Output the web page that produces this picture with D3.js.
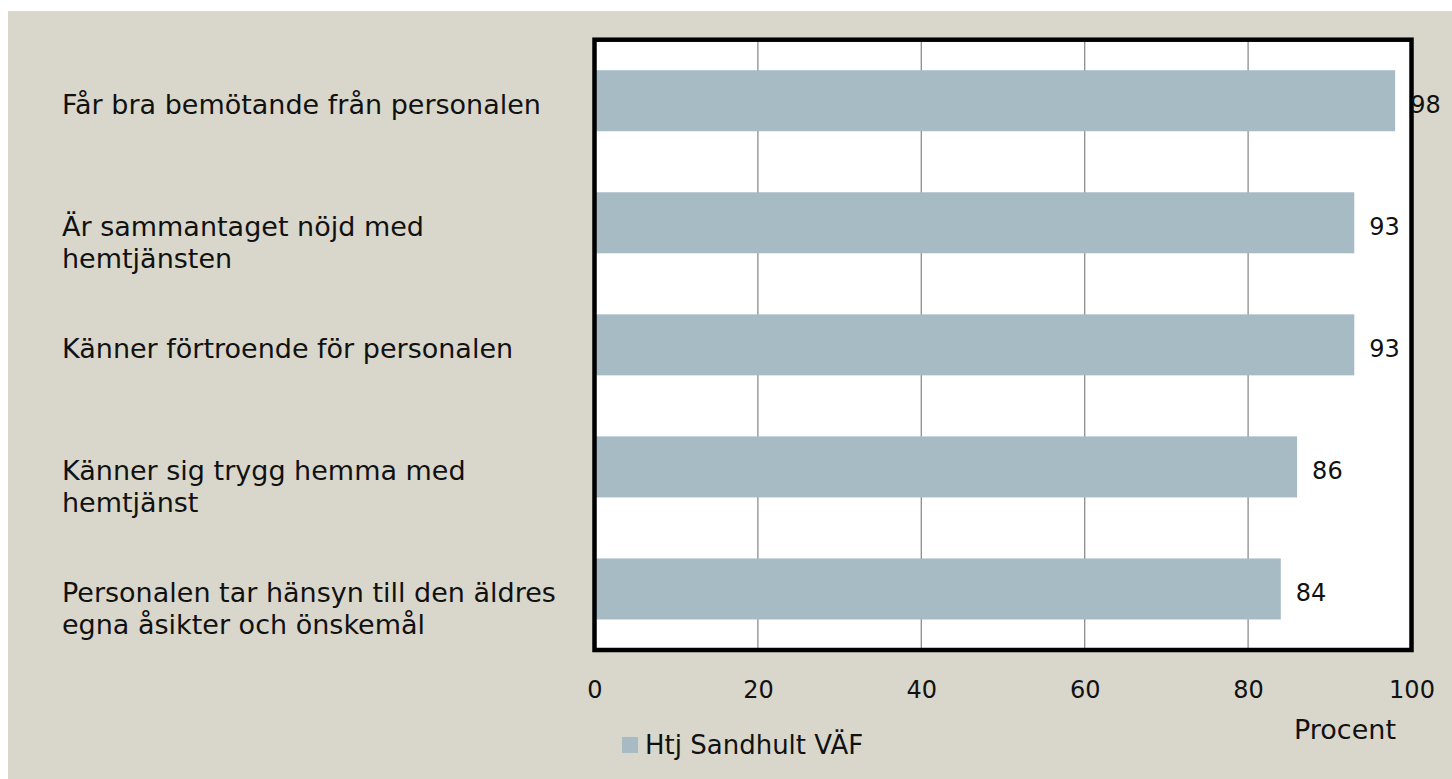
<!DOCTYPE html>
<html>
<head>
<meta charset="utf-8">
<script src="https://cdn.jsdelivr.net/npm/d3@7"></script>
<style>
  body { margin: 0; background: #ffffff; }
  text { font-family: "DejaVu Sans", sans-serif; fill: #111; }
</style>
</head>
<body>
<script>
// categories, top to bottom, each as lines of text
var categories = [
    ["Får bra bemötande från personalen"],
    ["Är sammantaget nöjd med", "hemtjänsten"],
    ["Känner förtroende för personalen"],
    ["Känner sig trygg hemma med", "hemtjänst"],
    ["Personalen tar hänsyn till den äldres", "egna åsikter och önskemål"]
];
var values = [98, 93, 93, 86, 84];
var ticks = [0, 20, 40, 60, 80, 100];
var seriesName = "Htj Sandhult VÄF";
var axisTitle = "Procent";

var width = 1452, height = 779;
var plot = {left: 594.5, right: 1411.5, top: 39.7, bottom: 650};

var svg = d3.select("body").append("svg")
    .attr("width", width)
    .attr("height", height);

// beige background, white strip on top and left
svg.append("rect")
    .attr("x", 8).attr("y", 11)
    .attr("width", width - 8).attr("height", height - 11)
    .style("fill", "#d9d7cb");

var x = d3.scaleLinear().domain([0, 100]).range([plot.left, plot.right]);
var y = d3.scaleBand()
    .domain(d3.range(categories.length))
    .range([plot.top, plot.bottom])
    .paddingInner(0.5).paddingOuter(0.25);

svg.append("rect")
    .attr("x", plot.left).attr("y", plot.top)
    .attr("width", plot.right - plot.left).attr("height", plot.bottom - plot.top)
    .style("fill", "#ffffff");

// gridlines
svg.selectAll(".grid")
    .data(ticks.slice(1, -1))
    .enter().append("line")
    .attr("class", "grid")
    .attr("x1", function(d) { return x(d); })
    .attr("x2", function(d) { return x(d); })
    .attr("y1", plot.top).attr("y2", plot.bottom)
    .style("stroke", "#8c8c8c")
    .style("stroke-width", 1.3);

// bars
svg.selectAll(".bar")
    .data(values)
    .enter().append("rect")
    .attr("class", "bar")
    .attr("x", x(0))
    .attr("y", function(d, i) { return y(i); })
    .attr("width", function(d) { return x(d) - x(0); })
    .attr("height", y.bandwidth())
    .style("fill", "#a7bbc5");

// frame
svg.append("rect")
    .attr("x", plot.left).attr("y", plot.top)
    .attr("width", plot.right - plot.left).attr("height", plot.bottom - plot.top)
    .style("fill", "none")
    .style("stroke", "#000")
    .style("stroke-width", 4.5);

// value labels
svg.selectAll(".val")
    .data(values)
    .enter().append("text")
    .attr("class", "val")
    .attr("x", function(d) { return x(d) + 15; })
    .attr("y", function(d, i) { return y(i) + y.bandwidth() / 2 + 12; })
    .style("font-size", "24px")
    .text(function(d) { return d; });

// category labels
var labels = svg.selectAll(".cat")
    .data(categories)
    .enter().append("text")
    .attr("class", "cat")
    .attr("x", 62)
    .attr("y", function(d, i) { return y(i) + y.bandwidth() / 2 + 13; })
    .style("font-size", "27px");
labels.selectAll("tspan")
    .data(function(d) { return d; })
    .enter().append("tspan")
    .attr("x", 62)
    .attr("dy", function(d, i) { return i === 0 ? 0 : 32; })
    .text(function(d) { return d; });

// x axis
var xAxis = d3.axisBottom(x).tickValues(ticks).tickSize(0).tickPadding(0);
var gx = svg.append("g")
    .attr("transform", "translate(0," + 678 + ")")
    .call(xAxis);
gx.select(".domain").remove();
gx.selectAll("text")
    .attr("dy", 0).attr("y", 20)
    .style("font-size", "24px")
    .style("font-family", "DejaVu Sans, sans-serif")
    .style("fill", "#111");

svg.append("text")
    .attr("x", 1345).attr("y", 739)
    .attr("text-anchor", "middle")
    .style("font-size", "27px")
    .text(axisTitle);

// legend
svg.append("rect")
    .attr("x", 622).attr("y", 737)
    .attr("width", 16).attr("height", 16)
    .style("fill", "#a7bbc5");
svg.append("text")
    .attr("x", 645).attr("y", 754)
    .style("font-size", "26px")
    .text(seriesName);
</script>
</body>
</html>
